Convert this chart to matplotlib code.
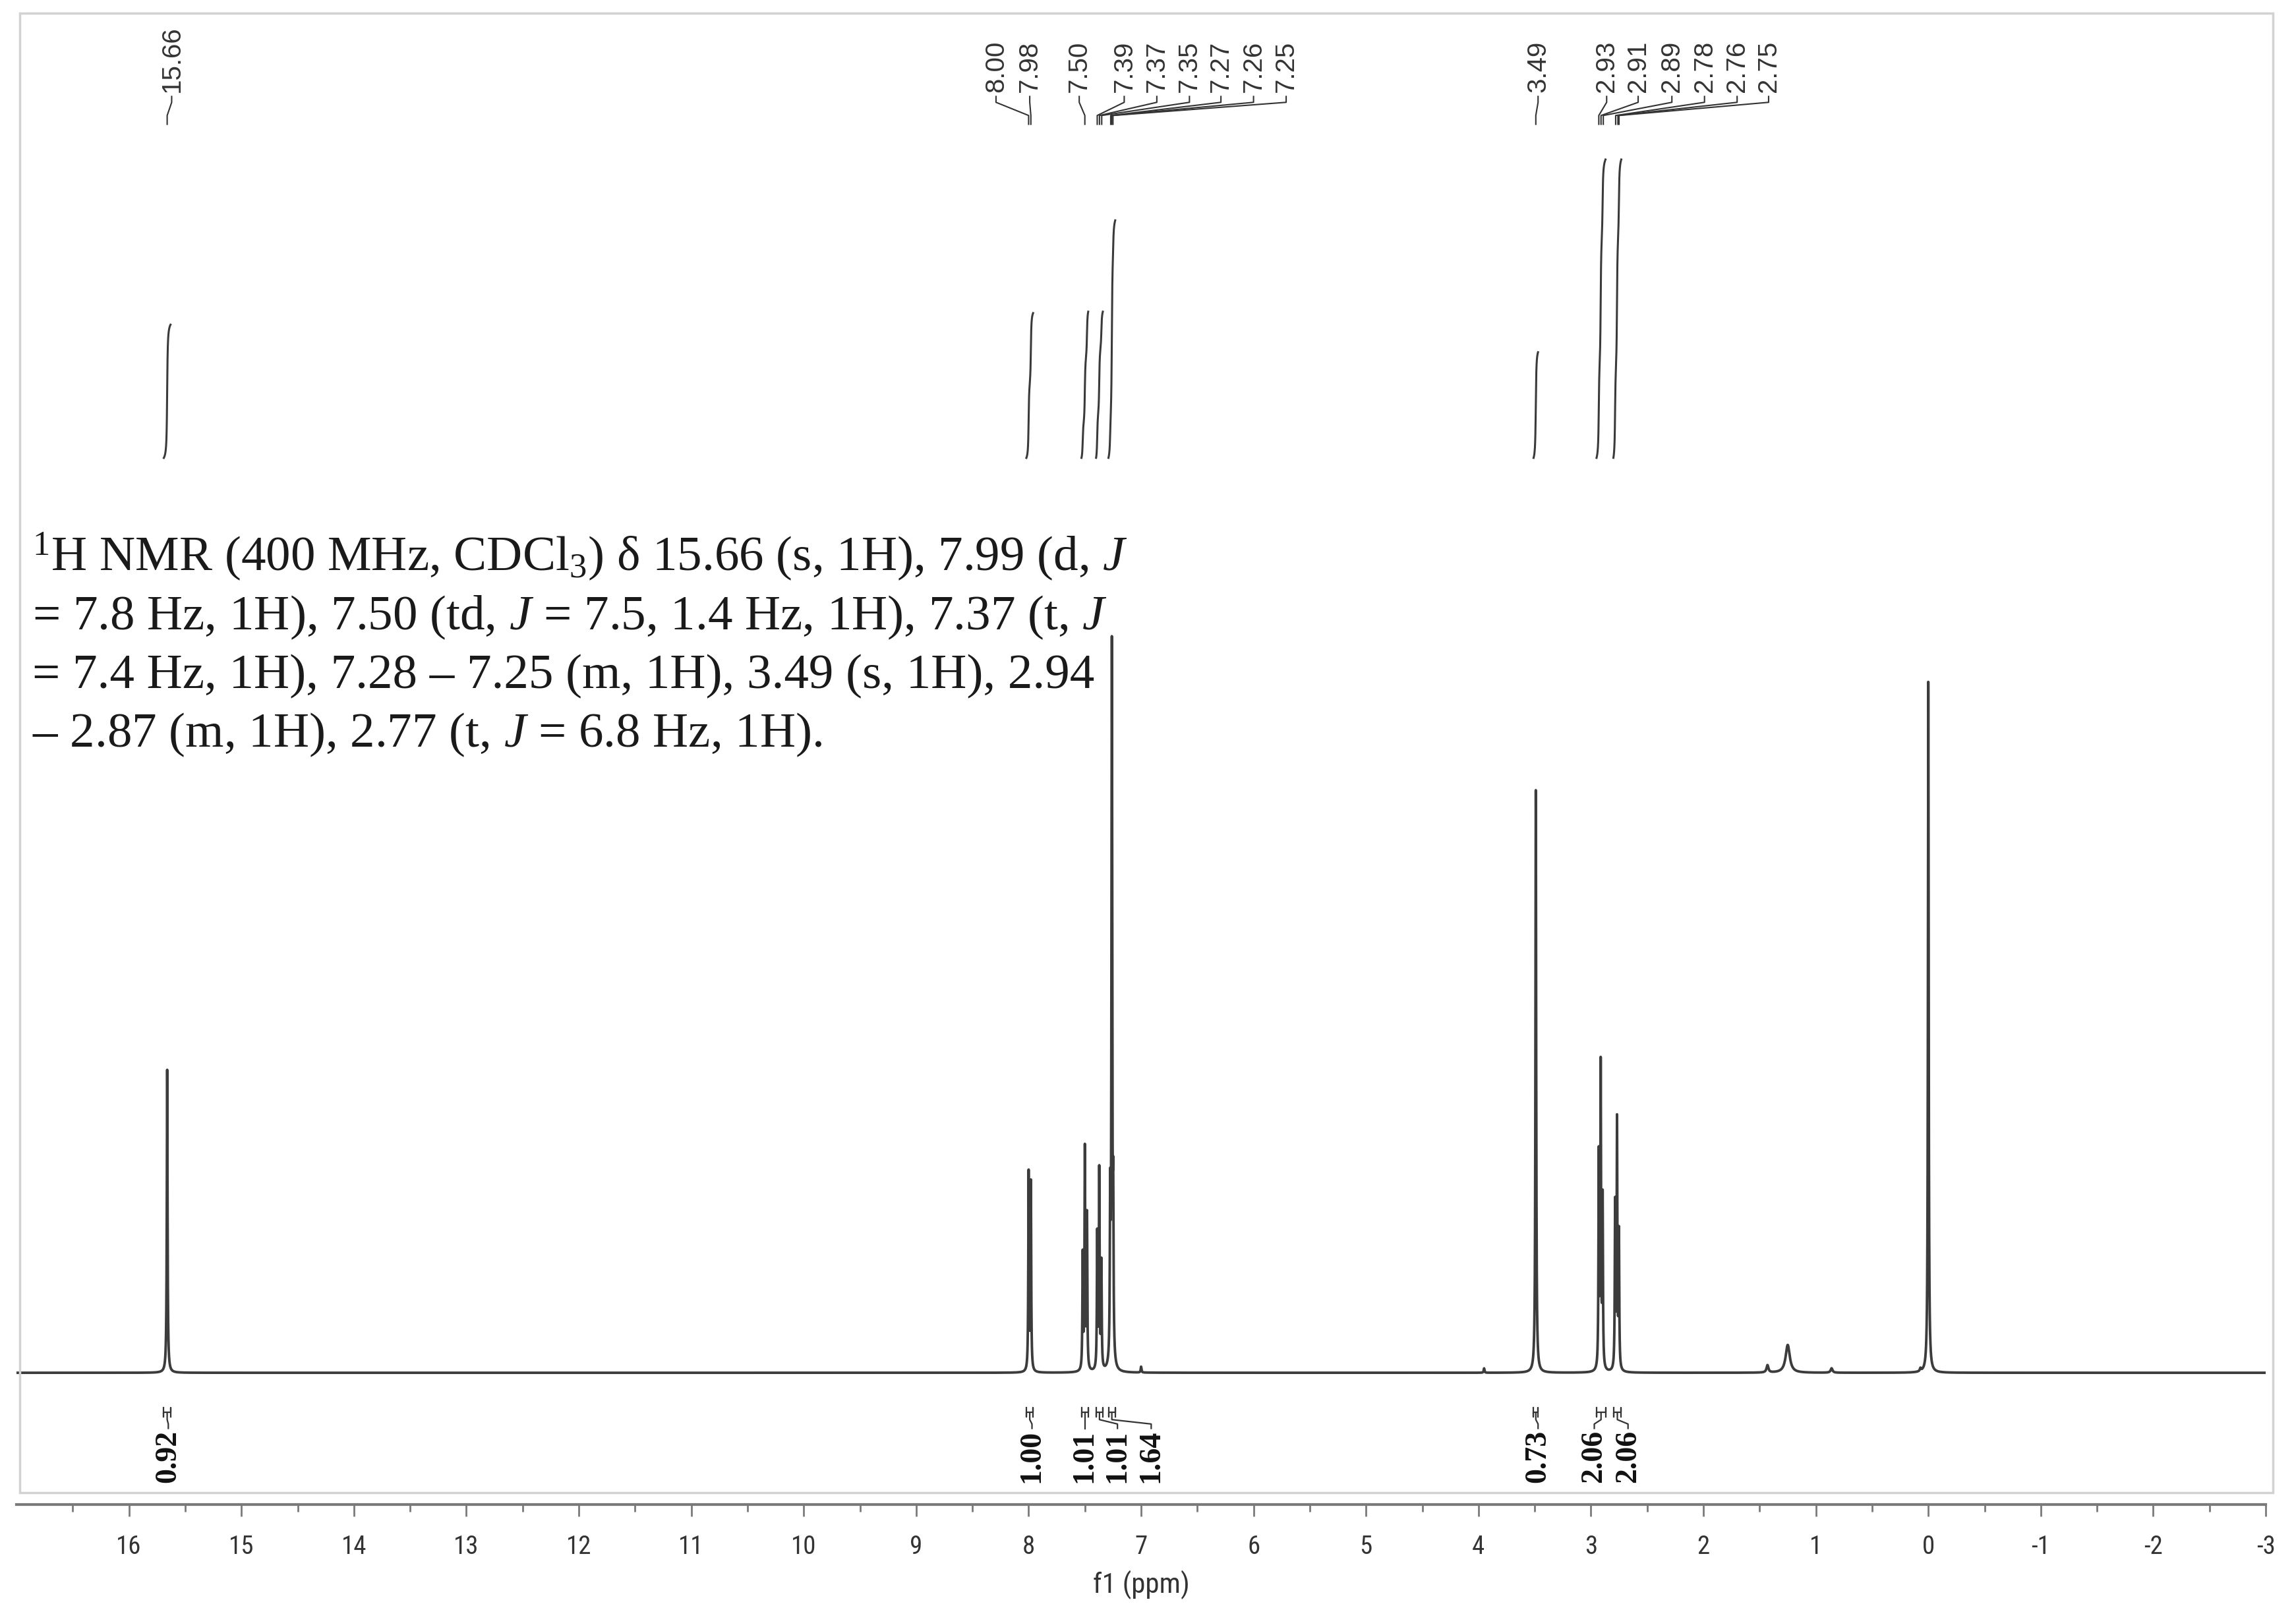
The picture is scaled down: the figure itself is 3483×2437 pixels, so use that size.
import numpy as np
import matplotlib.pyplot as plt
from matplotlib.patches import Rectangle

plt.rcParams['mathtext.fontset'] = 'custom'
plt.rcParams['mathtext.rm'] = 'Liberation Serif'
plt.rcParams['mathtext.it'] = 'Liberation Serif:italic'
plt.rcParams['mathtext.bf'] = 'Liberation Serif:bold'

# ---- spectrum peaks (ppm, height, half width) ----
peak_ppm = [15.66, 8.000, 7.980, 7.519, 7.500, 7.481, 7.390, 7.372, 7.353,
            7.275, 7.260, 7.248, 7.00, 3.95, 3.49, 2.930, 2.913, 2.896,
            2.785, 2.768, 2.751, 1.43, 1.25, 0.86, 0.07, 0.00]
peak_height = [207, 135, 128, 78, 150, 105, 92, 135, 72,
               105, 490, 95, 4, 3, 398, 145, 205, 115,
               112, 168, 92, 5, 19, 3, 2, 472]
peak_hw = [0.004, 0.0035, 0.0035, 0.0035, 0.0035, 0.0035, 0.0035, 0.0035, 0.0035,
           0.0035, 0.004, 0.0035, 0.004, 0.004, 0.004, 0.0035, 0.0035, 0.0035,
           0.0035, 0.0035, 0.0035, 0.01, 0.022, 0.01, 0.006, 0.004]

# ---- integrals ----
int_start = [15.69, 8.02, 7.53, 7.40, 7.29, 3.51, 2.95, 2.80]
int_end = [15.63, 7.96, 7.47, 7.34, 7.23, 3.47, 2.87, 2.73]
int_value = [0.92, 1.00, 1.01, 1.01, 1.64, 0.73, 2.06, 2.06]
int_label_x = [15.65, 7.97, 7.50, 7.21, 6.91, 3.47, 2.97, 2.67]

# ---- peak picking labels ----
pick_ppm = [15.66, 8.00, 7.98, 7.50, 7.39, 7.37, 7.35, 7.27, 7.26, 7.25,
            3.49, 2.93, 2.91, 2.89, 2.78, 2.76, 2.75]
pick_label_x = [15.62, 8.29, 7.99, 7.55, 7.15, 6.86, 6.57, 6.29, 6.00, 5.71,
                3.47, 2.86, 2.58, 2.28, 1.99, 1.70, 1.42]

tick_pos = list(range(16, -4, -1))
tick_txt = [str(t) for t in tick_pos]

text_lines = [
    r'$^{1}$H NMR (400 MHz, CDCl$_{3}$) δ 15.66 (s, 1H), 7.99 (d, $J$',
    r'= 7.8 Hz, 1H), 7.50 (td, $J$ = 7.5, 1.4 Hz, 1H), 7.37 (t, $J$',
    r'= 7.4 Hz, 1H), 7.28 – 7.25 (m, 1H), 3.49 (s, 1H), 2.94',
    r'– 2.87 (m, 1H), 2.77 (t, $J$ = 6.8 Hz, 1H).',
]

narrow = ['Liberation Sans Narrow', 'Roboto Condensed', 'Liberation Sans', 'DejaVu Sans']

W, H = 3483, 2437
fig = plt.figure(figsize=(W / 100, H / 100), dpi=100)
ax = fig.add_axes([25 / W, 154 / H, 3412 / W, (2415 - 154) / H])
ax.set_xlim(17, -3)
ax.set_ylim(-90, 928)

# build spectrum from the lorentzian lines
ppm = np.linspace(17, -3, 80001)
spec = np.zeros_like(ppm)
for p, h, w in zip(peak_ppm, peak_height, peak_hw):
    spec += h * w**2 / ((ppm - p)**2 + w**2)
ax.plot(ppm, spec, color='#3c3c3c', lw=2.8, zorder=3)

# integral curves (upper part) and labels (below baseline)
int_base, int_scale = 625, 99
for a, b, v, lx in zip(int_start, int_end, int_value, int_label_x):
    m = (ppm <= a) & (ppm >= b)
    c = np.cumsum(spec[m])
    c = c / c[-1] * v * int_scale + int_base
    ax.plot(ppm[m], c, color='#3a3a3a', lw=2.2)
    mid = (a + b) / 2
    ax.plot([a, a, a, b, b, b], [-24, -30, -27, -27, -24, -30], color='#333333', lw=1.6)
    ax.plot([mid, mid, lx, lx], [-27, -32, -35, -38], color='#333333', lw=1.6)
    ax.text(lx, -39, f'{v:.2f}', rotation=90, ha='center', va='top',
            family='Liberation Serif', weight='bold', fontsize=33, color='#111111')

# peak labels with leader lines
for p, lx in zip(pick_ppm, pick_label_x):
    ax.plot([lx, lx, p, p], [872, 868, 859, 853], color='#333333', lw=1.5)
    ax.text(lx, 875, f'{p:.2f}', rotation=90, ha='center', va='bottom',
            family='Liberation Sans', fontsize=29, color='#333333')

# axis styling
for s in ['top', 'left', 'right']:
    ax.spines[s].set_visible(False)
ax.spines['bottom'].set_color('#7a7a7a')
ax.spines['bottom'].set_linewidth(3)
ax.set_yticks([])
ax.set_xticks(tick_pos)
ax.set_xticklabels(tick_txt, family=narrow, fontstretch='condensed',
                   fontsize=28, color='#333333')
ax.set_xticks(np.arange(16.5, -3, -1), minor=True)
ax.tick_params(axis='x', which='major', direction='out', length=13, width=2,
               color='#7a7a7a', pad=20)
ax.tick_params(axis='x', which='minor', direction='out', length=8, width=2,
               color='#7a7a7a')
ax.set_xlabel('f1 (ppm)', family=narrow, fontstretch='condensed',
              fontsize=31, color='#333333', labelpad=12)
ax.patch.set_alpha(0)

# light gray frame around the spectrum
fig.add_artist(Rectangle((30 / W, (H - 2265) / H), 3418 / W, 2245 / H,
                         transform=fig.transFigure, fill=False,
                         ec='#d2d2d2', lw=2.5))

# description text
baselines = [866, 955, 1044, 1133]
for line, yb in zip(text_lines, baselines):
    fig.text(49 / W, 1 - yb / H, line, ha='left', va='baseline',
             family='Liberation Serif', fontsize=54, color='#1a1a1a')

fig.savefig('out.png', dpi=100, facecolor='white')
